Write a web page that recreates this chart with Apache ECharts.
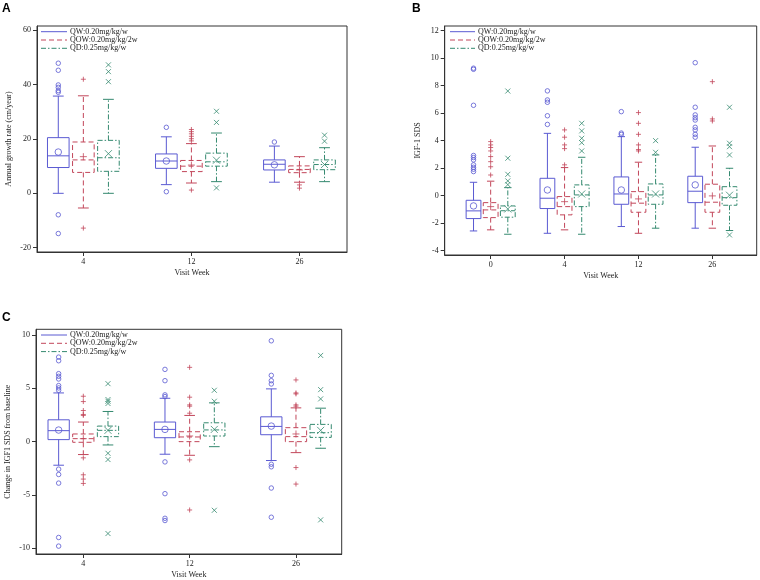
<!DOCTYPE html>
<html><head><meta charset="utf-8">
<script src="https://cdn.jsdelivr.net/npm/echarts@6/dist/echarts.min.js"></script>
<style>html,body{margin:0;padding:0;background:#fff}#c{width:760px;height:580px}</style>
</head><body><div id="c"></div>
<script>
const groupNames = ['QW:0.20mg/kg/w', 'QOW:0.20mg/kg/2w', 'QD:0.25mg/kg/w'];
const weeksA = ['4', '12', '26'];
const weeksB = ['0', '4', '12', '26'];
const weeksC = ['4', '12', '26'];
const yTicksA = [-20, 0, 20, 40, 60];
const yTicksB = [-4, -2, 0, 2, 4, 6, 8, 10, 12];
const yTicksC = [-10, -5, 0, 5, 10];

// box rows: [lower whisker, Q1, median, Q3, upper whisker], one per visit week
// Panel A: Annual growth rate
const boxA_QW = [[0, 9.5, 13.8, 20.5, 35.8], [3.2, 9.2, 11.9, 14.5, 20.8], [4.1, 8.6, 10.7, 12.3, 17.4]];
const meanA_QW = [15.2, 11.9, 10.5];
const outA_QW = [[47.9, 45.3, 39.9, 39.0, 37.8, 37.2, -7.9, -14.8], [24.3, 0.6], [18.9]];
const boxA_QOW = [[-5.4, 7.7, 12.3, 18.9, 35.9], [3.8, 8.0, 10.0, 12.1, 18.3], [4.1, 7.6, 8.8, 10.1, 13.5]];
const meanA_QOW = [13.5, 10.4, 8.6];
const outA_QOW = [[42.0, -12.8], [23.5, 22.7, 21.9, 21.0, 20.1, 19.3, 1.2], [3.1, 1.9]];
const boxA_QD = [[0, 8.1, 13.1, 19.5, 34.6], [4.3, 10.0, 11.6, 14.8, 22.2], [4.3, 8.7, 10.6, 12.3, 16.8]];
const meanA_QD = [14.6, 12.2, 10.6];
const outA_QD = [[47.3, 44.8, 41.1], [30.2, 26.1, 2.0], [21.4, 19.2]];

// Panel B: IGF-1 SDS
const boxB_QW = [[-2.57, -1.67, -1.11, -0.34, 0.97], [-2.74, -0.94, -0.19, 1.26, 4.53], [-2.25, -0.63, 0.12, 1.36, 4.29], [-2.37, -0.51, 0.32, 1.41, 3.52]];
const meanB_QW = [-0.75, 0.41, 0.41, 0.78];
const outB_QW = [[9.27, 9.19, 6.57, 2.92, 2.77, 2.6, 2.24, 2.06, 1.92, 1.75], [7.62, 6.96, 6.79, 5.81, 5.18], [6.11, 4.55, 4.45], [9.67, 6.43, 5.87, 5.67, 5.5, 4.97, 4.78, 4.46, 4.25]];
const boxB_QOW = [[-2.49, -1.6, -1.04, -0.51, 1.05], [-2.49, -1.4, -0.8, -0.07, 2.04], [-2.74, -1.21, -0.55, 0.29, 2.43], [-2.37, -1.21, -0.48, 0.83, 3.61]];
const meanB_QOW = [-0.8, -0.44, -0.24, -0.02];
const outB_QOW = [[3.93, 3.69, 3.5, 3.25, 2.84, 2.47, 2.1, 1.5], [4.78, 4.25, 3.69, 3.42, 2.24], [6.04, 5.26, 4.46, 3.69, 3.35, 3.25], [8.29, 5.58, 5.43]];
const boxB_QD = [[-2.81, -1.57, -1.1, -0.75, 0.58], [-2.81, -0.8, 0.05, 0.78, 2.79], [-2.37, -0.63, 0.05, 0.85, 2.96], [-2.54, -0.7, -0.15, 0.65, 1.99]];
const meanB_QD = [-0.97, 0.12, 0.12, 0.03];
const outB_QD = [[7.61, 2.72, 1.55, 1.07, 0.8], [5.26, 4.71, 4.17, 3.85, 3.25], [4.0, 3.15], [6.43, 3.81, 3.56, 2.96, -2.86]];

// Panel C: Change in IGF1 SDS from baseline
const boxC_QW = [[-2.21, 0.19, 1.03, 2.05, 4.57], [-1.18, 0.37, 1.15, 1.84, 4.07], [-1.77, 0.65, 1.43, 2.33, 4.95]];
const meanC_QW = [1.09, 1.15, 1.46];
const outC_QW = [[7.93, 7.59, 6.38, 6.13, 5.88, 5.26, 5.04, 4.82, -2.58, -3.08, -3.89, -8.99, -9.8], [6.78, 5.72, 4.39, 4.23, -1.9, -4.88, -7.19, -7.4], [9.46, 6.22, 5.72, 5.41, -2.12, -2.36, -4.35, -7.09]];
const boxC_QOW = [[-1.21, -0.06, 0.28, 0.72, 1.84], [-1.28, 0, 0.44, 0.93, 2.46], [-1.03, 0, 0.47, 1.31, 3.17]];
const meanC_QOW = [0.28, 0.53, 0.72];
const outC_QOW = [[4.26, 3.76, 2.92, 2.55, 2.46, -1.52, -3.11, -3.51, -3.92], [6.97, 4.17, 3.45, 3.33, 2.67, -1.71, -6.41], [5.79, 4.57, 4.48, 3.45, 3.33, -2.43, -3.98]];
const boxC_QD = [[-0.31, 0.47, 1.06, 1.46, 2.83], [-0.47, 0.53, 1.1, 1.77, 3.64], [-0.62, 0.4, 0.84, 1.62, 3.14]];
const meanC_QD = [1.06, 1.15, 1.06];
const outC_QD = [[5.44, 3.95, 3.79, 3.58, -1.09, -1.68, -8.62], [4.82, 3.79, -6.44], [8.09, 4.88, 4.01, -7.34]];

// ---------- styling ----------
const COLORS = ['#5a5ad2', '#c2465a', '#34896f'];
const DASHES = [null, [5, 3], [5, 2, 1.5, 2]];
const SYMBOLS = ['circle', 'path://M5,0L5,10M0,5L10,5', 'path://M0,0L10,10M0,10L10,0'];
const OFFSETS = [-0.232, 0, 0.232];
const BOX_W = 0.2;
const FONT = '"Liberation Serif", "DejaVu Serif", serif';
const TXT = '#222';

const panels = [
  { weeks: weeksA, yTicks: yTicksA, ymin: -21.6, ymax: 61.6, xmin: 0.571, xmax: 3.44, yname: 'Annual growth rate (cm/year)', nameGap: 24,
    grid: { left: 37, top: 26, width: 310, height: 226 },
    boxes: [boxA_QW, boxA_QOW, boxA_QD], means: [meanA_QW, meanA_QOW, meanA_QD], outs: [outA_QW, outA_QOW, outA_QD],
    legend: { x1: 41, x2: 67, tx: 70, ys: [31.7, 40, 48.3] }, letter: { t: 'A', x: 2, y: 3 } },
  { weeks: weeksB, yTicks: yTicksB, ymin: -4.32, ymax: 12.34, xmin: 0.378, xmax: 4.60, yname: 'IGF-1 SDS', nameGap: 22.5,
    grid: { left: 444.7, top: 26, width: 312, height: 229 },
    boxes: [boxB_QW, boxB_QOW, boxB_QD], means: [meanB_QW, meanB_QOW, meanB_QD], outs: [outB_QW, outB_QOW, outB_QD],
    legend: { x1: 450, x2: 475, tx: 478, ys: [31.7, 40, 48.3] }, letter: { t: 'B', x: 412, y: 3 } },
  { weeks: weeksC, yTicks: yTicksC, ymin: -10.54, ymax: 10.54, xmin: 0.555, xmax: 3.43, yname: 'Change in IGF1 SDS from baseline', nameGap: 24,
    grid: { left: 36, top: 329.3, width: 305.7, height: 226 },
    boxes: [boxC_QW, boxC_QOW, boxC_QD], means: [meanC_QW, meanC_QOW, meanC_QD], outs: [outC_QW, outC_QOW, outC_QD],
    legend: { x1: 41, x2: 67, tx: 70, ys: [335, 343.3, 351.6] }, letter: { t: 'C', x: 2, y: 312 } }
];

const grids = [], xAxes = [], yAxes = [], series = [], graphics = [];
const textStyle = { fontFamily: FONT, fontSize: 8, color: TXT };

function boxRender(gIdx) {
  return function (params, api) {
    const x = api.value(0);
    const lo = api.coord([x, api.value(1)]);
    const q1 = api.coord([x, api.value(2)]);
    const md = api.coord([x, api.value(3)]);
    const q3 = api.coord([x, api.value(4)]);
    const hi = api.coord([x, api.value(5)]);
    const w = api.size([BOX_W, 0])[0];
    const cx = lo[0];
    const st = { stroke: COLORS[gIdx], lineWidth: 1, fill: 'none' };
    if (DASHES[gIdx]) st.lineDash = DASHES[gIdx];
    const cap = { stroke: COLORS[gIdx], lineWidth: 1 };
    return { type: 'group', children: [
      { type: 'rect', shape: { x: cx - w / 2, y: q3[1], width: w, height: q1[1] - q3[1] }, style: st },
      { type: 'line', shape: { x1: cx - w / 2, y1: md[1], x2: cx + w / 2, y2: md[1] }, style: st },
      { type: 'line', shape: { x1: cx, y1: q3[1], x2: cx, y2: hi[1] }, style: st },
      { type: 'line', shape: { x1: cx, y1: q1[1], x2: cx, y2: lo[1] }, style: st },
      { type: 'line', shape: { x1: cx - w / 4, y1: hi[1], x2: cx + w / 4, y2: hi[1] }, style: cap },
      { type: 'line', shape: { x1: cx - w / 4, y1: lo[1], x2: cx + w / 4, y2: lo[1] }, style: cap }
    ] };
  };
}

panels.forEach((p, pi) => {
  grids.push(Object.assign({ show: true, borderColor: '#333', borderWidth: 1, backgroundColor: '#fff' }, p.grid));
  const cats = p.weeks.map((w, i) => i + 1);
  xAxes.push({
    gridIndex: pi, type: 'value', min: p.xmin, max: p.xmax,
    axisLine: { show: true, onZero: false, lineStyle: { color: '#333' } },
    axisTick: { show: true, customValues: cats, length: 4, lineStyle: { color: '#333' } },
    axisLabel: { customValues: cats, formatter: v => p.weeks[Math.round(v) - 1], margin: 6, fontFamily: FONT, fontSize: 8, color: TXT },
    splitLine: { show: false },
    name: 'Visit Week', nameLocation: 'middle', nameGap: 17, nameTextStyle: textStyle
  });
  yAxes.push({
    gridIndex: pi, type: 'value', min: p.ymin, max: p.ymax,
    axisLine: { show: true, onZero: false, lineStyle: { color: '#333' } },
    axisTick: { show: true, customValues: p.yTicks, length: 4, lineStyle: { color: '#333' } },
    axisLabel: { customValues: p.yTicks, margin: 6, fontFamily: FONT, fontSize: 8, color: TXT },
    splitLine: { show: false },
    name: p.yname, nameLocation: 'middle', nameGap: p.nameGap, nameTextStyle: textStyle
  });
  for (let g = 0; g < 3; g++) {
    series.push({
      type: 'custom', xAxisIndex: pi, yAxisIndex: pi, silent: true, clip: false,
      data: p.boxes[g].map((b, i) => [i + 1 + OFFSETS[g]].concat(b)),
      encode: { x: 0, y: [1, 2, 3, 4, 5] },
      renderItem: boxRender(g)
    });
    series.push({
      type: 'scatter', xAxisIndex: pi, yAxisIndex: pi, silent: true,
      symbol: SYMBOLS[g], symbolSize: g === 0 ? 6.5 : 7,
      itemStyle: { color: 'transparent', borderColor: COLORS[g], borderWidth: 1 },
      data: p.means[g].map((m, i) => [i + 1 + OFFSETS[g], m])
    });
    const pts = [];
    p.outs[g].forEach((arr, i) => arr.forEach(v => pts.push([i + 1 + OFFSETS[g], v])));
    series.push({
      type: 'scatter', xAxisIndex: pi, yAxisIndex: pi, silent: true,
      symbol: SYMBOLS[g], symbolSize: g === 0 ? 4.5 : 5,
      itemStyle: { color: 'transparent', borderColor: COLORS[g], borderWidth: 1 },
      data: pts
    });
    const L = p.legend;
    const lst = { stroke: COLORS[g], lineWidth: 1 };
    if (DASHES[g]) lst.lineDash = DASHES[g];
    graphics.push({ type: 'line', silent: true, z: 100, shape: { x1: L.x1, y1: L.ys[g], x2: L.x2, y2: L.ys[g] }, style: lst });
    graphics.push({ type: 'text', silent: true, z: 100, x: L.tx, y: L.ys[g],
      style: { text: groupNames[g], fontFamily: FONT, fontSize: 8, fill: TXT, verticalAlign: 'middle', align: 'left' } });
  }
  graphics.push({ type: 'text', silent: true, x: p.letter.x, y: p.letter.y,
    style: { text: p.letter.t, fontFamily: '"Liberation Sans", Arial, sans-serif', fontWeight: 'bold', fontSize: 12, fill: '#000', verticalAlign: 'top' } });
});

const chart = echarts.init(document.getElementById('c'), null, { renderer: 'canvas' });
chart.setOption({
  animation: false,
  backgroundColor: '#fff',
  grid: grids, xAxis: xAxes, yAxis: yAxes, series: series, graphic: graphics
});
</script>
</body></html>
